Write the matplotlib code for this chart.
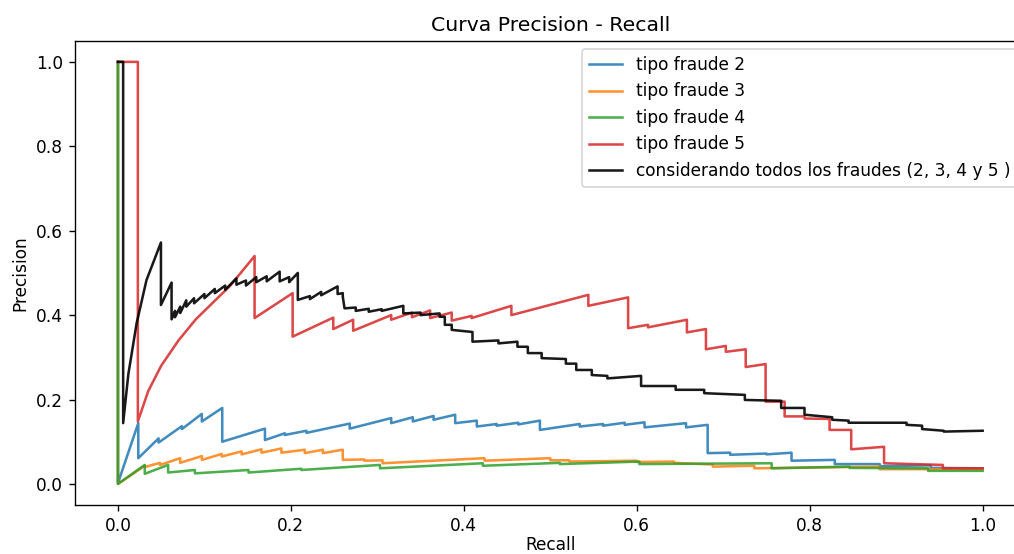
import matplotlib
matplotlib.use("Agg")
import matplotlib.pyplot as plt

# Precision-recall vertices per fraud type (recall, precision)
recall_f2 = [0, 0, 0.0235, 0.0235, 0.047, 0.047, 0.074, 0.074, 0.097, 0.097,
             0.1206, 0.1206, 0.17, 0.17, 0.193, 0.193, 0.218, 0.218, 0.268, 0.268,
             0.316, 0.316, 0.341, 0.341, 0.365, 0.365, 0.39, 0.39, 0.415, 0.415,
             0.438, 0.438, 0.463, 0.463, 0.488, 0.488, 0.534, 0.534, 0.561, 0.561,
             0.586, 0.586, 0.609, 0.609, 0.657, 0.657, 0.682, 0.682, 0.708, 0.708,
             0.75, 0.75, 0.779, 0.779, 0.829, 0.829, 0.881, 0.881, 0.94, 0.94, 1.0]
precision_f2 = [1, 0.002, 0.144, 0.061, 0.108, 0.098, 0.137, 0.13, 0.166, 0.148,
                0.18, 0.10, 0.131, 0.104, 0.12, 0.116, 0.126, 0.121, 0.143, 0.131,
                0.156, 0.144, 0.158, 0.148, 0.161, 0.152, 0.164, 0.144, 0.15, 0.136,
                0.142, 0.138, 0.145, 0.141, 0.15, 0.128, 0.142, 0.136, 0.142, 0.138,
                0.145, 0.14, 0.146, 0.134, 0.144, 0.134, 0.14, 0.073, 0.074, 0.069,
                0.072, 0.07, 0.074, 0.055, 0.057, 0.047, 0.047, 0.042, 0.044, 0.038, 0.037]

recall_f3 = [0, 0, 0.031, 0.031, 0.0486, 0.0486, 0.072, 0.072, 0.097, 0.097,
             0.12, 0.12, 0.143, 0.143, 0.166, 0.166, 0.189, 0.189, 0.216, 0.216,
             0.237, 0.237, 0.26, 0.26, 0.285, 0.285, 0.306, 0.306, 0.424, 0.424,
             0.5, 0.5, 0.522, 0.522, 0.6, 0.6, 0.643, 0.643, 0.688, 0.688,
             0.736, 0.736, 0.881, 0.881, 1.0]
precision_f3 = [1, 0, 0.043, 0.04, 0.05, 0.045, 0.061, 0.05, 0.066, 0.057,
                0.071, 0.065, 0.077, 0.07, 0.082, 0.074, 0.084, 0.074, 0.081, 0.073,
                0.081, 0.073, 0.081, 0.057, 0.058, 0.055, 0.056, 0.049, 0.061, 0.055,
                0.061, 0.056, 0.056, 0.053, 0.055, 0.052, 0.053, 0.05, 0.046, 0.041,
                0.043, 0.037, 0.041, 0.035, 0.035]

recall_f4 = [0, 0, 0.031, 0.031, 0.058, 0.058, 0.089, 0.089, 0.151, 0.151,
             0.212, 0.212, 0.303, 0.303, 0.422, 0.422, 0.511, 0.511, 0.603, 0.603,
             0.756, 0.756, 0.846, 0.846, 0.937, 0.937, 1.0]
precision_f4 = [1, 0, 0.045, 0.024, 0.045, 0.027, 0.033, 0.025, 0.033, 0.027,
                0.036, 0.033, 0.045, 0.037, 0.049, 0.043, 0.05, 0.047, 0.053, 0.047,
                0.049, 0.037, 0.041, 0.038, 0.037, 0.031, 0.031]

recall_f5 = [0, 0.023, 0.023, 0.035, 0.05, 0.07, 0.09, 0.11, 0.13, 0.158, 0.158,
             0.202, 0.202, 0.249, 0.249, 0.272, 0.272, 0.316, 0.316, 0.34, 0.34,
             0.361, 0.361, 0.386, 0.386, 0.409, 0.409, 0.455, 0.455, 0.544, 0.544,
             0.59, 0.59, 0.613, 0.613, 0.658, 0.658, 0.68, 0.68, 0.703, 0.703,
             0.726, 0.726, 0.749, 0.749, 0.771, 0.771, 0.794, 0.794, 0.823, 0.823,
             0.848, 0.848, 0.886, 0.886, 0.954, 0.954, 1.0]
precision_f5 = [1, 1, 0.148, 0.22, 0.28, 0.34, 0.39, 0.43, 0.47, 0.54, 0.393,
                0.452, 0.349, 0.394, 0.367, 0.389, 0.363, 0.40, 0.389, 0.406, 0.395,
                0.411, 0.393, 0.406, 0.387, 0.398, 0.393, 0.422, 0.40, 0.448, 0.422,
                0.442, 0.369, 0.377, 0.371, 0.389, 0.359, 0.367, 0.319, 0.327, 0.313,
                0.319, 0.277, 0.284, 0.195, 0.195, 0.16, 0.16, 0.155, 0.154, 0.128,
                0.128, 0.082, 0.088, 0.049, 0.045, 0.037, 0.037]

recall_all = [0, 0.006, 0.006, 0.012, 0.0216, 0.033, 0.0497, 0.0497, 0.062, 0.062,
              0.066, 0.066, 0.072, 0.072, 0.079, 0.079, 0.088, 0.088, 0.1, 0.1,
              0.112, 0.112, 0.124, 0.124, 0.137, 0.137, 0.148, 0.148, 0.16, 0.16,
              0.172, 0.172, 0.187, 0.187, 0.198, 0.198, 0.208, 0.208, 0.222, 0.222,
              0.235, 0.235, 0.254, 0.254, 0.26, 0.26, 0.262, 0.275, 0.275, 0.29,
              0.29, 0.305, 0.305, 0.33, 0.33, 0.35, 0.35, 0.372, 0.372, 0.378,
              0.378, 0.386, 0.386, 0.41, 0.41, 0.44, 0.44, 0.462, 0.462, 0.474,
              0.474, 0.49, 0.49, 0.518, 0.518, 0.53, 0.53, 0.548, 0.548, 0.566,
              0.566, 0.605, 0.605, 0.645, 0.645, 0.678, 0.678, 0.725, 0.725, 0.767,
              0.767, 0.794, 0.794, 0.826, 0.826, 0.845, 0.845, 0.912, 0.912, 0.93,
              0.93, 0.955, 0.955, 1.0]
precision_all = [1, 1, 0.144, 0.26, 0.381, 0.483, 0.572, 0.424, 0.477, 0.39,
                 0.41, 0.395, 0.42, 0.405, 0.435, 0.42, 0.44, 0.428, 0.45, 0.44,
                 0.462, 0.452, 0.47, 0.46, 0.487, 0.472, 0.482, 0.47, 0.49, 0.478,
                 0.492, 0.48, 0.503, 0.48, 0.49, 0.478, 0.50, 0.436, 0.445, 0.438,
                 0.455, 0.447, 0.468, 0.45, 0.452, 0.444, 0.416, 0.418, 0.41, 0.415,
                 0.408, 0.414, 0.41, 0.422, 0.404, 0.406, 0.4, 0.404, 0.396, 0.396,
                 0.377, 0.377, 0.365, 0.36, 0.337, 0.34, 0.333, 0.337, 0.325, 0.325,
                 0.31, 0.31, 0.298, 0.296, 0.285, 0.285, 0.27, 0.27, 0.258, 0.256,
                 0.25, 0.256, 0.232, 0.232, 0.223, 0.223, 0.215, 0.211, 0.199, 0.197,
                 0.18, 0.18, 0.164, 0.158, 0.152, 0.15, 0.145, 0.145, 0.14, 0.138,
                 0.13, 0.126, 0.124, 0.126]

labels = ["tipo fraude 2", "tipo fraude 3", "tipo fraude 4", "tipo fraude 5",
          "considerando todos los fraudes (2, 3, 4 y 5 )"]

plt.rcParams["font.family"] = ["DejaVu Sans"]

DPI = 122
fig = plt.figure(figsize=(1014 / DPI, 554 / DPI), dpi=DPI)
ax = fig.add_axes([0.0737, 0.0884, 0.938, 0.838])

alpha = 0.85
ax.plot(recall_f2, precision_f2, color="#1f77b4", alpha=alpha, label=labels[0])
ax.plot(recall_f3, precision_f3, color="#ff7f0e", alpha=alpha, label=labels[1])
ax.plot(recall_f4, precision_f4, color="#2ca02c", alpha=alpha, label=labels[2])
ax.plot(recall_f5, precision_f5, color="#d62728", alpha=alpha, label=labels[3])
ax.plot(recall_all, precision_all, color="black", alpha=0.9, label=labels[4])

ax.set_xlim(-0.05, 1.05)
ax.set_ylim(-0.05, 1.05)
ax.set_xticks([0, 0.2, 0.4, 0.6, 0.8, 1.0])
ax.set_yticks([0, 0.2, 0.4, 0.6, 0.8, 1.0])
ax.set_title("Curva Precision - Recall")
ax.set_xlabel("Recall", labelpad=0.5)
ax.set_ylabel("Precision")
ax.legend(loc="upper right")

fig.savefig("out.png", dpi=DPI)
